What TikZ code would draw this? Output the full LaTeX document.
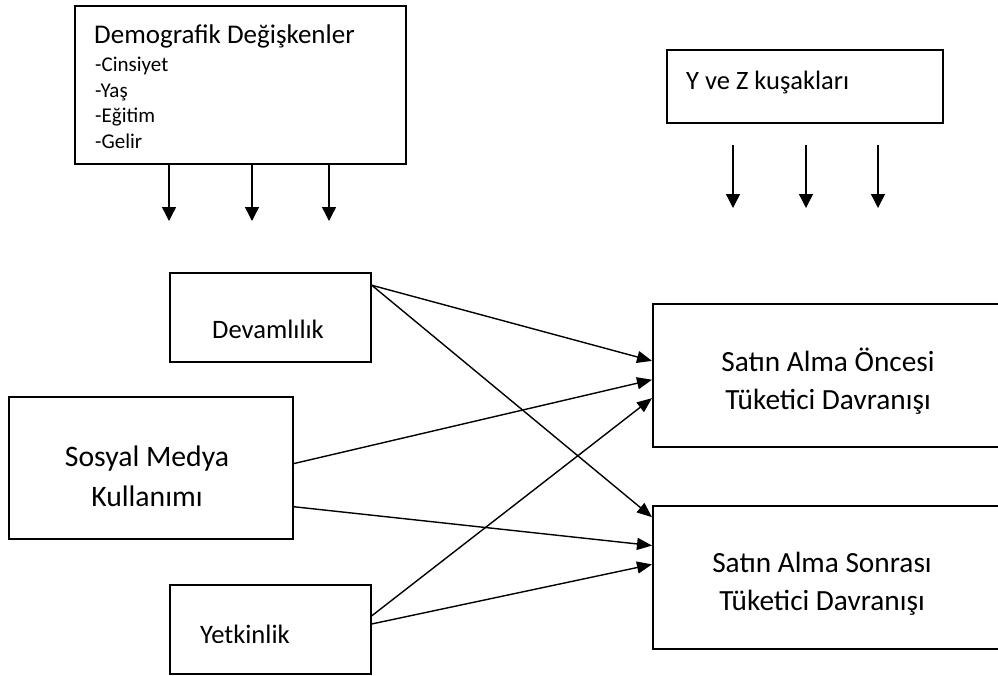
\documentclass[tikz,border=0pt]{standalone}
\usepackage{fontspec}
\setmainfont{Carlito}
\usetikzlibrary{arrows.meta,calc}
\begin{document}
\begin{tikzpicture}[x=1pt,y=-1pt,
  box/.style={draw=black,line width=1.8pt,rectangle,inner sep=0pt,anchor=north west},
  lbl/.style={inner sep=0pt,anchor=base,align=center},
  lst/.style={inner sep=0pt,anchor=base west,font=\fontsize{21}{25}\selectfont},
  arr/.style={line width=1.4pt,-{Triangle[length=14pt,width=14pt]}},
  darr/.style={line width=1.4pt,-{Triangle[length=15pt,width=12pt]}}]
\clip (0,0) rectangle (998,675);
\useasboundingbox (0,0) rectangle (998,675);
% boxes
\node[box,minimum width=331pt,minimum height=158pt] (demo) at (74,5) {};
\node[box,minimum width=276pt,minimum height=73pt] (yz) at (666,49) {};
\node[box,minimum width=201pt,minimum height=89pt] (dev) at (169,272) {};
\node[box,minimum width=284pt,minimum height=142pt] (sos) at (8,396) {};
\node[box,minimum width=201pt,minimum height=89pt] (yet) at (169,584) {};
\node[box,minimum width=370pt,minimum height=143pt] (onc) at (652,303) {};
\node[box,minimum width=370pt,minimum height=143pt] (son) at (652,505) {};
% texts
\node[inner sep=0pt,anchor=base west,font=\fontsize{27}{32}\selectfont] (tdemo) at (94,43) {Demografik Değişkenler};
\node[lst] (t1) at (95,71) {-Cinsiyet};
\node[lst] (t2) at (95,97) {-Yaş};
\node[lst] (t3) at (95,122) {-Eğitim};
\node[lst] (t4) at (95,148) {-Gelir};
\node[inner sep=0pt,anchor=base west,font=\fontsize{26.5}{31}\selectfont] (tyz) at (686,89) {Y ve Z kuşakları};
\node[lbl,font=\fontsize{26.6}{31}\selectfont] (tdev) at (268,338) {Devamlılık};
\node[lbl,font=\fontsize{29.7}{35}\selectfont] (tsos1) at (147,466) {Sosyal Medya};
\node[lbl,font=\fontsize{29.7}{35}\selectfont] (tsos2) at (147,506) {Kullanımı};
\begin{scope}
\clip (169,584) rectangle (370,642);
\node[lbl,font=\fontsize{26.6}{31}\selectfont] (tyet) at (245,643.5) {Yetkinlik};
\end{scope}
\node[lbl,font=\fontsize{29.3}{35}\selectfont] (tonc1) at (828,371) {Satın Alma Öncesi};
\node[lbl,font=\fontsize{29.3}{35}\selectfont] (tonc2) at (828,409) {Tüketici Davranışı};
\node[lbl,font=\fontsize{29.3}{35}\selectfont] (tson1) at (822,572) {Satın Alma Sonrası};
\node[lbl,font=\fontsize{29.3}{35}\selectfont] (tson2) at (822,610) {Tüketici Davranışı};
% demographic arrows
\coordinate (d1) at (169,221);
\coordinate (d2) at (252,221);
\coordinate (d3) at (329,221);
\draw[arr] (demo.south -| d1) -- (d1);
\draw[arr] (demo.south -| d2) -- (d2);
\draw[arr] (demo.south -| d3) -- (d3);
% generation arrows
\coordinate (g1s) at (733,145); \coordinate (g1) at (733,208);
\coordinate (g2s) at (806,145); \coordinate (g2) at (806,208);
\coordinate (g3s) at (878,145); \coordinate (g3) at (878,208);
\draw[arr] (g1s) -- (g1);
\draw[arr] (g2s) -- (g2);
\draw[arr] (g3s) -- (g3);
% diagonal connectors
\draw[darr] ($(dev.north east)!0.146!(dev.south east)$) -- ($(onc.north west)!0.40!(onc.south west)$);
\draw[darr] ($(dev.north east)!0.146!(dev.south east)$) -- ($(son.north west)!0.084!(son.south west)$);
\draw[darr] ($(sos.north east)!0.47!(sos.south east)$) -- ($(onc.north west)!0.53!(onc.south west)$);
\draw[darr] ($(sos.north east)!0.77!(sos.south east)$) -- ($(son.north west)!0.28!(son.south west)$);
\draw[darr] ($(yet.north east)!0.35!(yet.south east)$) -- ($(onc.north west)!0.657!(onc.south west)$);
\draw[darr] ($(yet.north east)!0.44!(yet.south east)$) -- ($(son.north west)!0.41!(son.south west)$);
\end{tikzpicture}
\end{document}
